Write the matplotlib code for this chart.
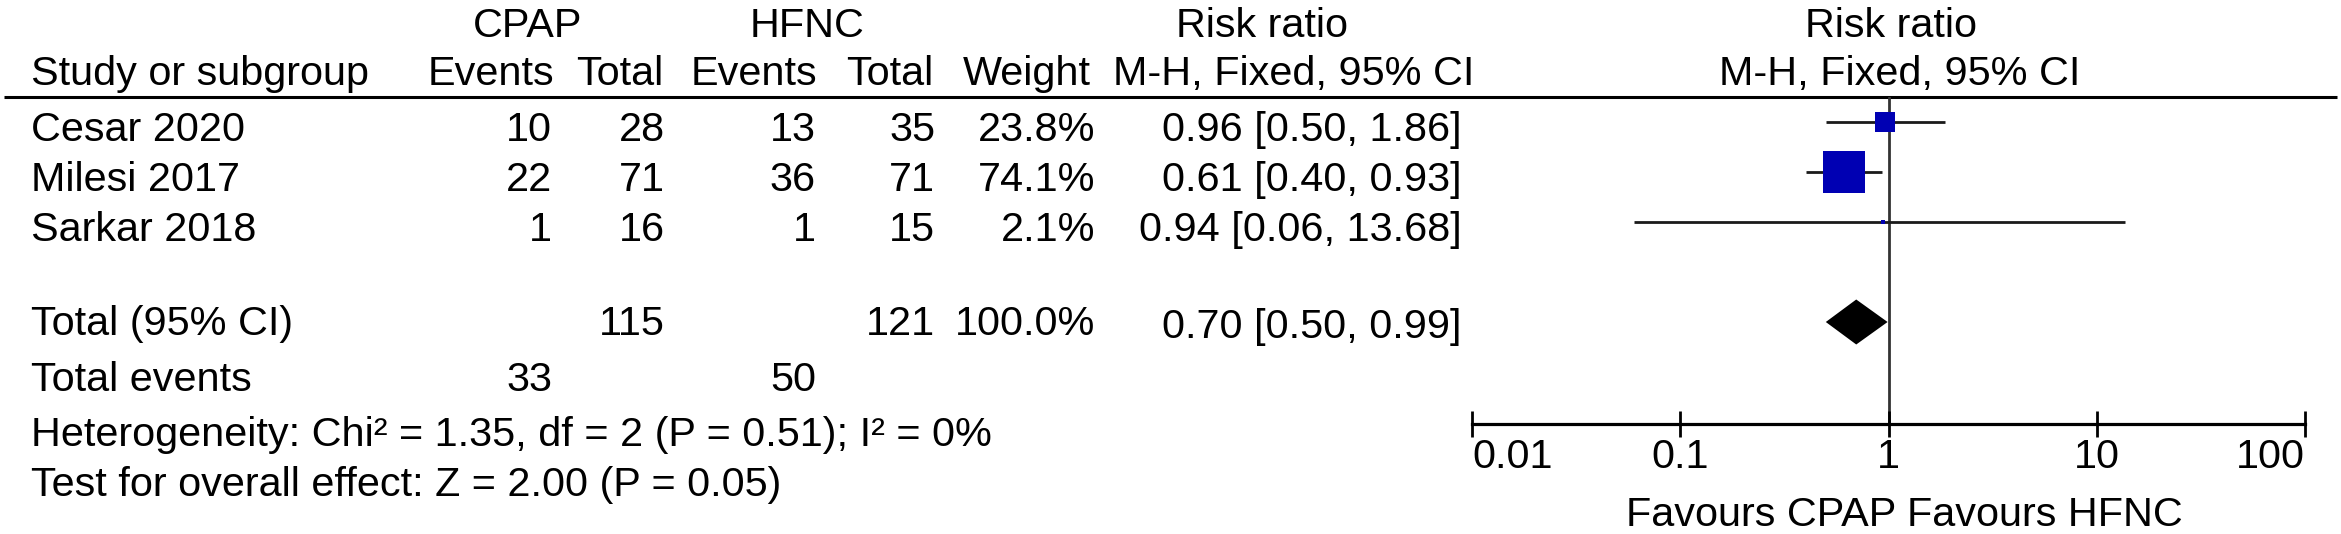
import matplotlib
matplotlib.use('Agg')
import matplotlib.pyplot as plt
import numpy as np

# study level data
studies = ['Cesar 2020', 'Milesi 2017', 'Sarkar 2018']
cpap_events = [10, 22, 1]
cpap_total = [28, 71, 16]
hfnc_events = [13, 36, 1]
hfnc_total = [35, 71, 15]
weights = [23.8, 74.1, 2.1]
rr = [0.96, 0.61, 0.94]
rr_lo = [0.50, 0.40, 0.06]
rr_hi = [1.86, 0.93, 13.68]

# pooled result
total_cpap = 115
total_hfnc = 121
total_weight = 100.0
events_cpap = 33
events_hfnc = 50
pooled_rr = 0.70
pooled_lo = 0.50
pooled_hi = 0.99

heterogeneity = 'Heterogeneity: Chi\u00b2 = 1.35, df = 2 (P = 0.51); I\u00b2 = 0%'
overall = 'Test for overall effect: Z = 2.00 (P = 0.05)'
favours = 'Favours CPAP Favours HFNC'

xticks = [0.01, 0.1, 1, 10, 100]
xtick_labels = ['0.01', '0.1', '1', '10', '100']

W, H = 2341, 534
plt.rcParams['font.family'] = ['Liberation Sans', 'DejaVu Sans']
fs = 29.8

fig = plt.figure(figsize=(W / 100, H / 100), dpi=100)

# overlay axes in pixel units for the table part
ax0 = fig.add_axes([0, 0, 1, 1])
ax0.set_xlim(0, W)
ax0.set_ylim(H, 0)
ax0.axis('off')


def txt(x, y, s, ha='left'):
    ax0.text(x, y, s, ha=ha, va='baseline', fontsize=fs, color='black')


# column anchors (px)
x_study = 31
x_ce, x_ct, x_he, x_ht, x_w, x_ci = 552, 665, 816, 935, 1095, 1462

# header
txt(528, 37, 'CPAP', 'center')
txt(807, 37, 'HFNC', 'center')
txt(1262, 37, 'Risk ratio', 'center')
txt(1891, 37, 'Risk ratio', 'center')
txt(x_study, 85, 'Study or subgroup')
txt(x_ce + 2, 85, 'Events', 'right')
txt(x_ct - 2, 85, 'Total', 'right')
txt(x_he + 1, 85, 'Events', 'right')
txt(x_ht - 2, 85, 'Total', 'right')
txt(x_w - 4, 85, 'Weight', 'right')
txt(1474, 85, 'M-H, Fixed, 95% CI', 'right')
txt(1900, 85, 'M-H, Fixed, 95% CI', 'center')
ax0.plot([4, 2337], [97, 97], color='black', lw=2.2, solid_capstyle='butt')

# study rows
row_base = [141, 191, 241]
for i, name in enumerate(studies):
    y = row_base[i]
    txt(x_study, y, name)
    txt(x_ce, y, str(cpap_events[i]), 'right')
    txt(x_ct, y, str(cpap_total[i]), 'right')
    txt(x_he, y, str(hfnc_events[i]), 'right')
    txt(x_ht, y, str(hfnc_total[i]), 'right')
    txt(x_w, y, f'{weights[i]:.1f}%', 'right')
    txt(x_ci, y, f'{rr[i]:.2f} [{rr_lo[i]:.2f}, {rr_hi[i]:.2f}]', 'right')

# totals
txt(x_study, 335, 'Total (95% CI)')
txt(x_ct, 335, str(total_cpap), 'right')
txt(x_ht, 335, str(total_hfnc), 'right')
txt(x_w, 335, f'{total_weight:.1f}%', 'right')
txt(x_ci, 338, f'{pooled_rr:.2f} [{pooled_lo:.2f}, {pooled_hi:.2f}]', 'right')
txt(x_study, 391, 'Total events')
txt(x_ce, 391, str(events_cpap), 'right')
txt(x_he, 391, str(events_hfnc), 'right')
txt(x_study, 446, heterogeneity)
txt(x_study, 496, overall)
txt(1904, 526, favours, 'center')

# forest plot axes: rows at 72 + 50*row px
left_px, right_px, top_px, axis_px = 1472, 2305, 97, 424
ax = fig.add_axes([left_px / W, 1 - axis_px / H, (right_px - left_px) / W, (axis_px - top_px) / H])
ax.set_xscale('log')
ax.set_xlim(0.01, 100)
ax.set_ylim((axis_px - 72) / 50, (top_px - 72) / 50)
ax.patch.set_alpha(0)
for s in ['top', 'left', 'right']:
    ax.spines[s].set_visible(False)
ax.spines['bottom'].set_linewidth(2.3)
ax.set_yticks([])
ax.set_xticks(xticks)
ax.set_xticklabels(xtick_labels)
ax.xaxis.set_minor_locator(matplotlib.ticker.NullLocator())
ax.tick_params(axis='x', direction='inout', length=19, width=2.0, pad=0.5, labelsize=fs)
labels = ax.get_xticklabels()
labels[0].set_ha('left')
labels[-1].set_ha('right')

ax.axvline(1, color='#333333', lw=2.0, zorder=1)

rows = np.arange(1, len(studies) + 1)
for i, y in enumerate(rows):
    ax.plot([rr_lo[i], rr_hi[i]], [y, y], color='#1a1a1a', lw=2.0, zorder=2, solid_capstyle='butt')
    side_px = max(2.07 * weights[i] ** 0.7, 5)
    ax.plot(rr[i], y, marker='s', ms=side_px * 0.72, color='#0000b3', mec='#0000b3', mew=0, zorder=3)

# pooled diamond
yt = 5
hh = 0.45
ax.fill([pooled_lo, pooled_rr, pooled_hi, pooled_rr], [yt, yt - hh, yt, yt + hh], color='black', zorder=3, lw=0)

fig.savefig('out.png', dpi=100)
